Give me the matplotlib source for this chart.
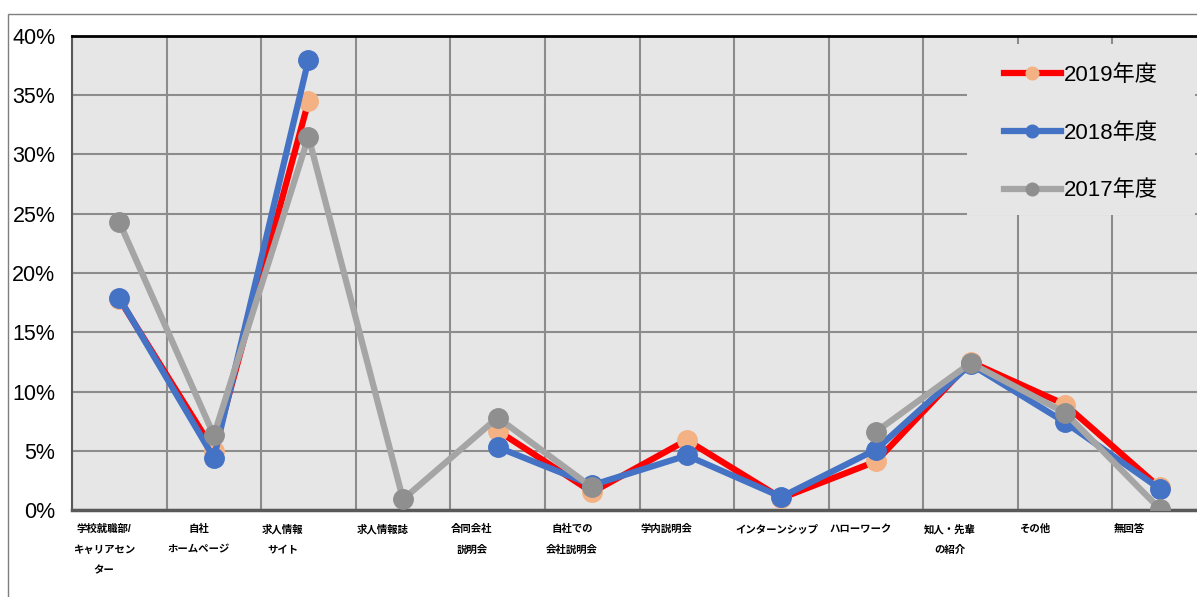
import numpy as np
import matplotlib.pyplot as plt
from matplotlib.patches import Rectangle

plt.rcParams['font.family'] = ['Liberation Sans', 'Noto Sans CJK JP']

categories = ['学校就職部/\nキャリアセン\nター', '自社\nホームページ', '求人情報\nサイト', '求人情報誌',
              '合同会社\n説明会', '自社での\n会社説明会', '学内説明会', 'インターンシップ',
              'ハローワーク', '知人・先輩\nの紹介', 'その他', '無回答']
nan = np.nan
y2019 = [17.8, 5.0, 34.5, nan, 6.7, 1.5, 5.9, 1.0, 4.1, 12.5, 8.9, 1.9]
y2018 = [17.9, 4.4, 38.0, nan, 5.3, 2.1, 4.6, 1.1, 5.1, 12.3, 7.4, 1.8]
y2017 = [24.3, 6.3, 31.5, 0.9, 7.8, 1.9, nan, nan, 6.6, 12.4, 8.2, 0.1]

fig = plt.figure(figsize=(11.97, 5.97), dpi=100)
ax = fig.add_axes([72/1197, 1-510/597, 1135/1197, 474/597])
ax.set_facecolor('#E6E6E6')

x = np.arange(len(categories))
ax.plot(x, y2019, color='#FF0000', lw=4.5, marker='o', ms=14,
        mfc='#F4B183', mec='#F4B183', label='2019年度', zorder=3)
ax.plot(x, y2018, color='#4472C4', lw=4.5, marker='o', ms=14,
        mfc='#4472C4', mec='#4472C4', label='2018年度', zorder=4)
ax.plot(x, y2017, color='#A5A5A5', lw=4.5, marker='o', ms=14,
        mfc='#8F8F8F', mec='#8F8F8F', label='2017年度', zorder=5)

ax.set_xlim(-0.5, 11.5)
ax.set_ylim(0, 40)
ax.set_yticks(np.arange(0, 41, 5))
ax.set_yticklabels([f'{v}%' for v in range(0, 41, 5)], fontsize=15.5)
# labels sit left-aligned at the category boundary, like Excel does here
ax.set_xticks(x - 0.49)
ax.set_xticklabels(categories, fontsize=7.5, fontweight='bold', linespacing=2.3,
                   va='top', ha='left', multialignment='center')
ax.set_xticks(np.arange(-0.5, 12, 1), minor=True)
ax.tick_params(axis='x', which='both', length=0, pad=10)
ax.tick_params(axis='y', length=0, pad=12)
ax.grid(True, which='minor', axis='x', color='#8C8C8C', lw=1.5)
ax.grid(True, which='major', axis='y', color='#8C8C8C', lw=1.5)
ax.set_axisbelow(True)
ax.spines['top'].set_color('black')
ax.spines['top'].set_linewidth(2)
ax.spines['left'].set_color('#595959')
ax.spines['left'].set_linewidth(1.5)
ax.spines['bottom'].set_color('#595959')
ax.spines['bottom'].set_linewidth(2.5)
ax.spines['right'].set_visible(False)

# legend background box covering the grid
ax.add_patch(Rectangle((967/1197, 1-215/597), 228/1197, 171/597, transform=fig.transFigure,
                       facecolor='#E6E6E6', edgecolor='none', zorder=2, clip_on=False))
leg = fig.legend(loc='upper left', bbox_to_anchor=(1004/1197, 1-65/597),
                 fontsize=16, frameon=False, labelspacing=1.65, handlelength=2.55,
                 handletextpad=0.15, borderpad=0, borderaxespad=0, markerscale=0.65)

fig.patches.append(Rectangle((8/1197, -0.1), 1.2, 1-14/597+0.1, transform=fig.transFigure,
                             fill=False, edgecolor='#7F7F7F', lw=1))

fig.savefig('out.png', dpi=100)
